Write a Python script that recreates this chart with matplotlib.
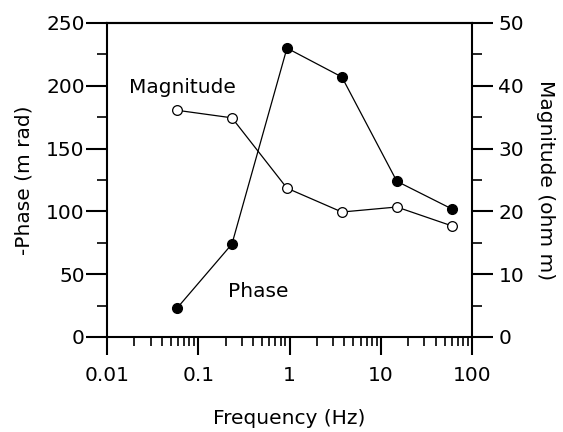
import matplotlib
matplotlib.use("Agg")
import matplotlib.pyplot as plt
from matplotlib.ticker import MultipleLocator, LogLocator, NullFormatter

# Data
frequency_hz = [0.0586, 0.234, 0.938, 3.75, 15.0, 60.0]
phase_mrad = [23, 74, 230, 207, 124, 102]
magnitude_ohm_m = [36.1, 34.9, 23.7, 19.9, 20.7, 17.7]
x_tick_values = [0.01, 0.1, 1, 10, 100]
x_tick_labels = ["0.01", "0.1", "1", "10", "100"]
phase_ticks = [0, 50, 100, 150, 200, 250]
mag_ticks = [0, 10, 20, 30, 40, 50]

plt.rcParams['font.family'] = ['DejaVu Sans']
FS = 14.5

fig = plt.figure(figsize=(5.63, 4.32), dpi=100)
ax = fig.add_axes([107/563, 1-337/432, (472-107)/563, (337-23)/432])
ax2 = ax.twinx()

ax.set_xscale('log')
ax.set_xlim(0.01, 100)
ax.set_ylim(0, 250)
ax2.set_ylim(0, 50)

ax.plot(frequency_hz, phase_mrad, color='black', lw=0.9, marker='o',
        markersize=7, markerfacecolor='black', markeredgecolor='black', zorder=3)
ax2.plot(frequency_hz, magnitude_ohm_m, color='black', lw=0.9, marker='o',
         markersize=7, markerfacecolor='white', markeredgecolor='black',
         markeredgewidth=0.9, zorder=3)

for a in (ax, ax2):
    for s in a.spines.values():
        s.set_linewidth(1.5)
        s.set_color('black')

ax.spines['right'].set_visible(False)
ax2.spines['left'].set_visible(False)
ax2.spines['bottom'].set_visible(False)

ax.set_xticks(x_tick_values)
ax.set_xticklabels(x_tick_labels)
ax.xaxis.set_minor_locator(LogLocator(base=10, subs=[2, 3, 4, 5, 6, 7, 8, 9], numticks=20))
ax.xaxis.set_minor_formatter(NullFormatter())

ax.set_yticks(phase_ticks)
ax.yaxis.set_minor_locator(MultipleLocator(25))
ax2.set_yticks(mag_ticks)
ax2.yaxis.set_minor_locator(MultipleLocator(5))

ax.tick_params(axis='x', which='major', direction='out', length=13, width=1.5, pad=8, labelsize=FS)
ax.tick_params(axis='x', which='minor', direction='out', length=6.5, width=1.2)
ax.tick_params(axis='y', which='major', direction='out', length=15, width=1.5, pad=1, labelsize=FS)
ax.tick_params(axis='y', which='minor', direction='out', length=7.5, width=1.2)
ax2.tick_params(axis='y', which='major', direction='out', length=15, width=1.5, pad=4, labelsize=FS)
ax2.tick_params(axis='y', which='minor', direction='out', length=7.5, width=1.2)

ax.set_xlabel("Frequency (Hz)", fontsize=FS, labelpad=17)
ax.set_ylabel("-Phase (m rad)", fontsize=FS, labelpad=9)
ax2.set_ylabel("Magnitude (ohm m)", fontsize=FS, rotation=-90, labelpad=22)

ax.text(0.0664, 194.3, "Magnitude", ha='center', va='baseline', fontsize=FS)
ax.text(0.457, 31.8, "Phase", ha='center', va='baseline', fontsize=FS)

fig.savefig("out.png", dpi=100)
